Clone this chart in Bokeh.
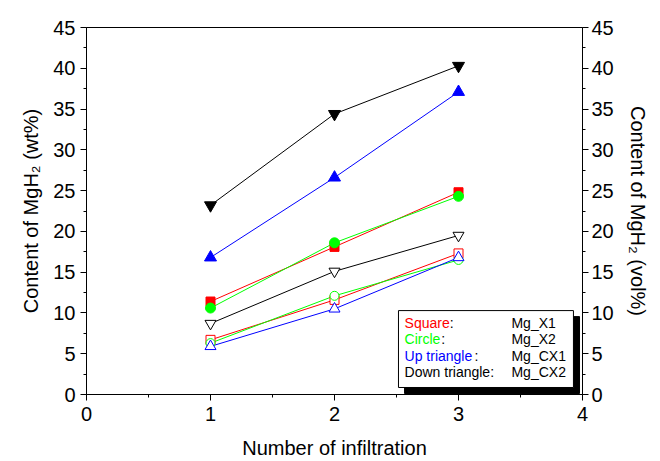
from bokeh.plotting import figure
from bokeh.models import LinearAxis, FixedTicker, Range1d
from bokeh.core.properties import value
from bokeh.embed import file_html
from bokeh.resources import INLINE

# ---- data ----
infiltration = [1, 2, 3]
# filled markers (wt%)
x1_filled = [11.4, 18.1, 24.8]
x2_filled = [10.6, 18.6, 24.3]
cx1_filled = [16.8, 26.6, 37.1]
cx2_filled = [23.2, 34.4, 40.3]
# open markers (vol%)
x1_open = [6.7, 11.6, 17.3]
x2_open = [6.3, 12.1, 16.5]
cx1_open = [5.9, 10.5, 16.8]
cx2_open = [8.7, 15.1, 19.5]

y_ticks = [0, 5, 10, 15, 20, 25, 30, 35, 40, 45]
x_ticks = [0, 1, 2, 3, 4]

legend_shapes = ["Square", "Circle", "Up triangle", "Down triangle"]
legend_names = ["Mg_X1", "Mg_X2", "Mg_CX1", "Mg_CX2"]
legend_colors = ["#ff0000", "#00ff00", "#0000ff", "#000000"]

FONT = "Liberation Sans"

p = figure(width=660, height=461, output_backend="svg", toolbar_location=None,
           x_range=Range1d(0, 4), y_range=Range1d(0, 45),
           x_axis_location=None, y_axis_location=None,
           min_border_left=86, min_border_right=78, min_border_top=27, min_border_bottom=67)
p.grid.visible = False
p.outline_line_color = "black"
p.outline_line_width = 1
p.background_fill_color = "white"
p.border_fill_color = "white"


def style_axis(ax):
    ax.axis_line_color = "black"
    ax.axis_line_width = 1
    ax.major_tick_in = 0
    ax.major_tick_out = 6
    ax.minor_tick_in = 0
    ax.minor_tick_out = 3
    ax.major_tick_line_color = "black"
    ax.minor_tick_line_color = "black"
    ax.major_label_text_font = FONT
    ax.major_label_text_font_size = "20px"
    ax.major_label_text_color = "black"
    ax.axis_label_text_font = FONT
    ax.axis_label_text_font_size = "20px"
    ax.axis_label_text_font_style = "normal"
    ax.axis_label_text_color = "black"
    ax.major_label_standoff = 5


xax = LinearAxis(axis_label="Number of infiltration",
                 ticker=FixedTicker(ticks=x_ticks, minor_ticks=[0.5, 1.5, 2.5, 3.5]))
style_axis(xax)
xax.major_label_standoff = 6
xax.axis_label_standoff = 13
p.add_layout(xax, "below")

minor_y = [2.5 + 5 * i for i in range(9)]
yl = LinearAxis(axis_label="Content of MgH\u2082 (wt%)",
                ticker=FixedTicker(ticks=y_ticks, minor_ticks=minor_y))
style_axis(yl)
yl.axis_label_standoff = 8
p.add_layout(yl, "left")

yr = LinearAxis(axis_label="Content of MgH\u2082 (vol%)",
                ticker=FixedTicker(ticks=y_ticks, minor_ticks=minor_y))
style_axis(yr)
yr.major_label_standoff = 3
yr.axis_label_standoff = 10
yr.axis_label_orientation = "vertical"
p.add_layout(yr, "right")

series = [
    (x1_filled, "square", "#ff0000", True, 9),
    (x2_filled, "circle", "#00ff00", True, 10),
    (cx1_filled, "triangle", "#0000ff", True, 12),
    (cx2_filled, "inverted_triangle", "#000000", True, 12),
    (x1_open, "square", "#ff0000", False, 9),
    (x2_open, "circle", "#00ff00", False, 9),
    (cx1_open, "triangle", "#0000ff", False, 11),
    (cx2_open, "inverted_triangle", "#000000", False, 11),
]
for ys, mk, col, filled, sz in series:
    p.line(infiltration, ys, line_color=col, line_width=1)
for ys, mk, col, filled, sz in series:
    p.scatter(infiltration, ys, marker=mk, size=sz, line_color=col, line_width=1,
              fill_color=col if filled else "white")

# ---- legend box (drawn manually) ----
box_l, box_r, box_t, box_b = 2.516, 3.927, 10.29, 0.86
shadow_l, shadow_r, shadow_t, shadow_b = 2.565, 3.976, 9.55, 0.12
p.quad(left=[shadow_l], right=[shadow_r], top=[shadow_t], bottom=[shadow_b],
       fill_color="black", line_color="black")
p.quad(left=[box_l], right=[box_r], top=[box_t], bottom=[box_b],
       fill_color="white", line_color="black", line_width=1)

row_y = [8.82, 6.86, 4.78, 2.82]
text_x = [2.565] * 4
name_x = [3.427] * 4
# width in em of each shape word (Arial metrics) for colon placement
em_widths = [3.224, 2.612, 5.003, 6.113]
fs = 14
p.text(x=text_x, y=row_y, text=legend_shapes, text_color=legend_colors,
       text_font=value(FONT), text_font_size="14px", text_baseline="middle", text_align="left")
for i in range(4):
    p.text(x=[text_x[i]], y=[row_y[i]], text=[":"], text_color="black",
           x_offset=em_widths[i] * fs,
           text_font=value(FONT), text_font_size="14px", text_baseline="middle", text_align="left")
p.text(x=name_x, y=row_y, text=legend_names, text_color="black",
       text_font=value(FONT), text_font_size="14px", text_baseline="middle", text_align="left")

open("out.html", "w").write(file_html(p, INLINE))
